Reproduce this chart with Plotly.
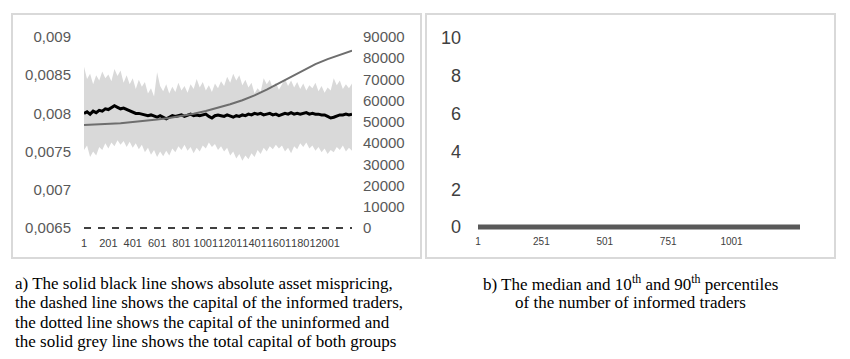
import plotly.graph_objects as go

# ---------------- data ----------------
# panel a) : time steps (every 25) for the band and the mispricing line
steps_a = list(range(1, 2202, 25))
band_upper = [0.00861, 0.00845, 0.00852, 0.00838, 0.00850, 0.00843, 0.00855, 0.00846, 0.00851, 0.00842,
              0.00858, 0.00849, 0.00856, 0.00840, 0.00850, 0.00838, 0.00846, 0.00832, 0.00844, 0.00835,
              0.00841, 0.00826, 0.00833, 0.00822, 0.00854, 0.00836, 0.00829, 0.00838, 0.00826, 0.00835,
              0.00828, 0.00840, 0.00830, 0.00836, 0.00827, 0.00838, 0.00832, 0.00845, 0.00834, 0.00841,
              0.00830, 0.00837, 0.00828, 0.00839, 0.00833, 0.00842, 0.00836, 0.00848, 0.00840, 0.00852,
              0.00843, 0.00850, 0.00837, 0.00844, 0.00834, 0.00840, 0.00826, 0.00833, 0.00828, 0.00846,
              0.00838, 0.00844, 0.00833, 0.00840, 0.00831, 0.00838, 0.00845, 0.00836, 0.00843, 0.00834,
              0.00841, 0.00832, 0.00839, 0.00830, 0.00837, 0.00833, 0.00840, 0.00829, 0.00836, 0.00827,
              0.00834, 0.00830, 0.00846, 0.00837, 0.00843, 0.00832, 0.00838, 0.00833, 0.00839]
band_lower = [0.00752, 0.00758, 0.00743, 0.00750, 0.00745, 0.00756, 0.00752, 0.00761, 0.00754, 0.00762,
              0.00757, 0.00765, 0.00759, 0.00764, 0.00756, 0.00763, 0.00755, 0.00761, 0.00753, 0.00759,
              0.00749, 0.00755, 0.00746, 0.00752, 0.00743, 0.00750, 0.00744, 0.00751, 0.00745, 0.00754,
              0.00749, 0.00757, 0.00752, 0.00759, 0.00751, 0.00756, 0.00748, 0.00755, 0.00750, 0.00758,
              0.00754, 0.00762, 0.00756, 0.00760, 0.00752, 0.00757, 0.00750, 0.00755, 0.00745, 0.00750,
              0.00741, 0.00747, 0.00738, 0.00745, 0.00740, 0.00748, 0.00743, 0.00752, 0.00747, 0.00755,
              0.00750, 0.00757, 0.00753, 0.00759, 0.00754, 0.00758, 0.00750, 0.00755, 0.00748, 0.00757,
              0.00753, 0.00761, 0.00756, 0.00762, 0.00754, 0.00758, 0.00751, 0.00756, 0.00749, 0.00754,
              0.00747, 0.00752, 0.00749, 0.00756, 0.00752, 0.00758, 0.00750, 0.00755, 0.00751]
mispricing = [0.00800, 0.00802, 0.00799, 0.00803, 0.00801, 0.00804, 0.00803, 0.00806, 0.00805, 0.00808,
              0.00810, 0.00808, 0.00806, 0.00807, 0.00805, 0.00804, 0.00801, 0.00800, 0.00800, 0.00799,
              0.00798, 0.00797, 0.00798, 0.00796, 0.00795, 0.00797, 0.00795, 0.00793, 0.00795, 0.00797,
              0.00796, 0.00797, 0.00798, 0.00796, 0.00797, 0.00799, 0.00797, 0.00798, 0.00797, 0.00798,
              0.00799, 0.00796, 0.00794, 0.00797, 0.00798, 0.00797, 0.00796, 0.00798, 0.00796, 0.00795,
              0.00797, 0.00796, 0.00798, 0.00797, 0.00799, 0.00798, 0.00800, 0.00799, 0.00800, 0.00798,
              0.00799, 0.00800, 0.00798, 0.00799, 0.00797, 0.00799, 0.00800, 0.00799, 0.00801, 0.00799,
              0.00800, 0.00799, 0.00800, 0.00801, 0.00799, 0.00800, 0.00799, 0.00799, 0.00798, 0.00798,
              0.00796, 0.00794, 0.00795, 0.00797, 0.00798, 0.00798, 0.00799, 0.00798, 0.00799]

# capital series (every 100 steps), right axis
steps_cap = list(range(1, 2202, 100))
total_capital = [48500, 48700, 49000, 49400, 49900, 50400, 51100, 51800, 52700, 53800,
                 55100, 56600, 58300, 60200, 62500, 65200, 68200, 71400, 74500, 77200,
                 79600, 81700, 83600]
informed_capital = [0] * len(steps_cap)

xticks_a = [1, 201, 401, 601, 801, 1001, 1201, 1401, 1601, 1801, 2001]
yticks_a = [0.0065, 0.007, 0.0075, 0.008, 0.0085, 0.009]
yticks_a_text = ["0,0065", "0,007", "0,0075", "0,008", "0,0085", "0,009"]
yticks_a2 = [0, 10000, 20000, 30000, 40000, 50000, 60000, 70000, 80000, 90000]

# panel b)
steps_b = list(range(1, 1272, 10))
informed_median = [0] * len(steps_b)
xticks_b = [1, 251, 501, 751, 1001]
yticks_b = [0, 2, 4, 6, 8, 10]

caption_a = ["a) The solid black line shows absolute asset mispricing,",
             "the dashed line shows the capital of the informed traders,",
             "the dotted line shows the capital of the uninformed and",
             "the solid grey line shows the total capital of both groups"]
caption_b = ["b) The median and 10<sup>th</sup> and 90<sup>th</sup> percentiles",
             "of the number of informed traders"]

# ---------------- layout helpers ----------------
W, H = 850, 359
def fx(p):
    return p / W
def fy(p):
    return 1 - p / H

AX_FONT = "Liberation Sans, Arial, sans-serif"
CAP_FONT = "Liberation Serif, Times New Roman, serif"

fig = go.Figure()

# grey band
fig.add_trace(go.Scatter(x=steps_a, y=band_lower, mode="lines", line=dict(width=0),
                         hoverinfo="skip", showlegend=False, xaxis="x", yaxis="y"))
fig.add_trace(go.Scatter(x=steps_a, y=band_upper, mode="lines", line=dict(width=0),
                         fill="tonexty", fillcolor="#d9d9d9",
                         showlegend=False, xaxis="x", yaxis="y"))
# mispricing
fig.add_trace(go.Scatter(x=steps_a, y=mispricing, mode="lines",
                         line=dict(color="#000000", width=3),
                         showlegend=False, xaxis="x", yaxis="y"))
# capital lines
fig.add_trace(go.Scatter(x=steps_cap, y=total_capital, mode="lines",
                         line=dict(color="#6e6e6e", width=2),
                         showlegend=False, xaxis="x", yaxis="y2"))
fig.add_trace(go.Scatter(x=steps_cap, y=informed_capital, mode="lines",
                         line=dict(color="#404040", width=2, dash="7px,7px"),
                         showlegend=False, xaxis="x", yaxis="y2"))
# panel b
fig.add_trace(go.Scatter(x=steps_b, y=informed_median, mode="lines",
                         line=dict(color="#595959", width=5),
                         showlegend=False, xaxis="x2", yaxis="y3"))

# y ranges extended slightly below the bottom tick so zero lines are not clipped
pxa = 191 / 0.0025
ext = 3
ya_range = [0.0065 - ext / pxa, 0.009]
y2_range = [0 - ext / (191 / 90000), 90000]
yb_range = [0 - ext / (189 / 10), 10]

common = dict(showgrid=False, zeroline=False, showline=False, ticks="", automargin=False)

fig.update_layout(
    template="none",
    width=W, height=H,
    margin=dict(l=0, r=0, t=0, b=0, pad=0, autoexpand=False),
    paper_bgcolor="white", plot_bgcolor="white",
    showlegend=False,
    xaxis=dict(domain=[fx(84), fx(352)], range=[1, 2201], anchor="y",
               tickmode="array", tickvals=xticks_a, tickangle=0,
               tickfont=dict(family=AX_FONT, size=11, color="#404040"),
               ticklabelstandoff=4, **common),
    yaxis=dict(domain=[fy(228 + ext), fy(37)], range=ya_range, anchor="x",
               tickmode="array", tickvals=yticks_a, ticktext=yticks_a_text,
               tickfont=dict(family=AX_FONT, size=15, color="#595959"),
               ticklabelstandoff=12, **common),
    yaxis2=dict(overlaying="y", side="right", range=y2_range, anchor="x",
                tickmode="array", tickvals=yticks_a2, tickformat="d",
                tickfont=dict(family=AX_FONT, size=15, color="#595959"),
                ticklabelstandoff=10, **common),
    xaxis2=dict(domain=[fx(478), fx(800)], range=[1, 1271], anchor="y3",
                tickmode="array", tickvals=xticks_b, tickangle=0,
                tickfont=dict(family=AX_FONT, size=10, color="#404040"),
                ticklabelstandoff=4, **common),
    yaxis3=dict(domain=[fy(227 + ext), fy(38)], range=yb_range, anchor="x2",
                tickmode="array", tickvals=yticks_b,
                tickfont=dict(family=AX_FONT, size=18, color="#404040"),
                ticklabelstandoff=16, **common),
)

# panel borders
for x0, x1 in [(12, 421), (426, 835)]:
    fig.add_shape(type="rect", xref="paper", yref="paper",
                  x0=fx(x0), x1=fx(x1), y0=fy(258), y1=fy(14),
                  line=dict(color="#d9d9d9", width=2), fillcolor="rgba(0,0,0,0)")

# captions
cap_y = [283, 302.5, 322, 341.5]
for text, yy in zip(caption_a, cap_y):
    fig.add_annotation(text=text, xref="paper", yref="paper", x=fx(13), y=fy(yy),
                       xanchor="left", yanchor="middle", showarrow=False,
                       font=dict(family=CAP_FONT, size=17, color="#000000"))
for text, yy in zip(caption_b, cap_y[:2]):
    fig.add_annotation(text=text, xref="paper", yref="paper", x=fx(630), y=fy(yy),
                       xanchor="center", yanchor="middle", showarrow=False,
                       font=dict(family=CAP_FONT, size=17, color="#000000"))

fig.write_html("out.html", config={"displayModeBar": False},
               post_script="document.body.style.margin='0px';document.body.style.overflow='hidden';")
